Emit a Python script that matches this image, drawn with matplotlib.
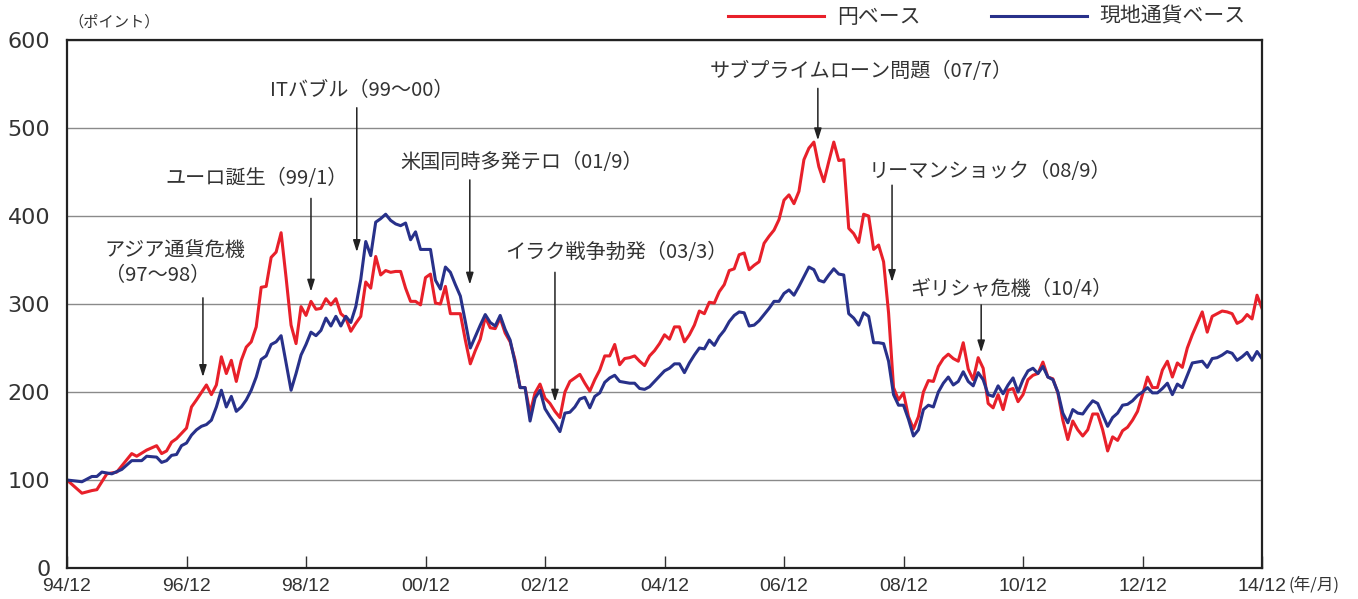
import matplotlib
matplotlib.use('Agg')
import matplotlib.pyplot as plt

plt.rcParams['font.family'] = ['Noto Sans CJK JP', 'DejaVu Sans']

# months since 94/12
months_yen = [0, 3, 5, 6, 8, 10, 13, 14, 16, 18, 19, 20, 21, 22, 24, 25, 26, 28, 29, 30,
              31, 32, 33, 34, 35, 36, 37, 38, 39, 40, 41, 42, 43, 44, 45, 46, 47, 48, 49, 50,
              51, 52, 53, 54, 55, 56, 57, 58, 59, 60, 61, 62, 63, 64, 65, 66, 67, 68, 69, 70,
              71, 72, 73, 74, 75, 76, 77, 78, 79, 80, 81, 82, 83, 84, 85, 86, 87, 88, 89, 90,
              91, 92, 93, 94, 95, 96, 97, 98, 99, 100, 101, 102, 103, 104, 105, 106, 107, 108, 109, 110,
              111, 112, 113, 114, 115, 116, 117, 118, 119, 120, 121, 122, 123, 124, 125, 126, 127, 128, 129, 130,
              131, 132, 133, 134, 135, 136, 137, 138, 139, 140, 141, 142, 143, 144, 145, 146, 147, 148, 149, 150,
              151, 152, 153, 154, 155, 156, 157, 158, 159, 160, 161, 162, 163, 164, 165, 166, 167, 168, 169, 170,
              171, 172, 173, 174, 175, 176, 177, 178, 179, 180, 181, 182, 183, 184, 185, 186, 187, 188, 189, 190,
              191, 192, 193, 194, 195, 196, 197, 198, 199, 200, 201, 202, 203, 204, 205, 206, 207, 208, 209, 210,
              211, 212, 213, 214, 215, 216, 217, 218, 219, 220, 221, 222, 223, 224, 225, 226, 227, 228, 229, 230,
              231, 232, 233, 234, 235, 236, 237, 238, 239, 240]
yen_base = [100, 85, 88, 89, 107, 109, 130, 127, 134, 139, 130, 133, 143, 147, 159, 183, 191, 208, 197, 208,
            240, 221, 236, 212, 236, 251, 257, 274, 319, 320, 353, 359, 381, 330, 276, 255, 297, 287, 303, 294,
            295, 306, 299, 306, 289, 284, 269, 278, 286, 325, 318, 354, 333, 338, 336, 337, 337, 318, 303, 303,
            299, 330, 334, 301, 300, 320, 289, 289, 289, 259, 232, 247, 260, 285, 273, 272, 284, 267, 257, 236,
            205, 205, 176, 199, 209, 193, 187, 178, 171, 200, 212, 216, 220, 210, 201, 214, 225, 241, 241, 254,
            231, 238, 239, 241, 235, 230, 241, 247, 255, 265, 260, 274, 274, 257, 265, 276, 292, 289, 302, 301,
            314, 322, 338, 340, 356, 358, 339, 344, 348, 369, 377, 384, 396, 418, 424, 414, 428, 464, 477, 484,
            456, 439, 462, 484, 463, 464, 386, 380, 370, 402, 400, 362, 367, 348, 290, 205, 191, 199, 172, 158,
            172, 200, 213, 212, 229, 238, 243, 238, 235, 256, 226, 214, 239, 227, 187, 182, 197, 180, 202, 204,
            189, 197, 214, 219, 221, 234, 217, 215, 199, 168, 146, 167, 157, 150, 157, 175, 175, 157, 133, 149,
            145, 156, 160, 168, 178, 197, 217, 205, 205, 225, 235, 217, 233, 228, 250, 265, 278, 291, 268, 286,
            289, 292, 291, 289, 278, 281, 288, 283, 310, 295]

months_local = [0, 3, 5, 6, 7, 9, 11, 13, 15, 16, 18, 19, 20, 21, 22, 23, 24, 25, 26, 27,
                28, 29, 30, 31, 32, 33, 34, 35, 36, 37, 38, 39, 40, 41, 42, 43, 44, 45, 46, 47,
                48, 49, 50, 51, 52, 53, 54, 55, 56, 57, 58, 59, 60, 61, 62, 63, 64, 65, 66, 67,
                68, 69, 70, 71, 72, 73, 74, 75, 76, 77, 78, 79, 80, 81, 82, 83, 84, 85, 86, 87,
                88, 89, 90, 91, 92, 93, 94, 95, 96, 97, 98, 99, 100, 101, 102, 103, 104, 105, 106, 107,
                108, 109, 110, 111, 112, 113, 114, 115, 116, 117, 118, 119, 120, 121, 122, 123, 124, 125, 126, 127,
                128, 129, 130, 131, 132, 133, 134, 135, 136, 137, 138, 139, 140, 141, 142, 143, 144, 145, 146, 147,
                148, 149, 150, 151, 152, 153, 154, 155, 156, 157, 158, 159, 160, 161, 162, 163, 164, 165, 166, 167,
                168, 169, 170, 171, 172, 173, 174, 175, 176, 177, 178, 179, 180, 181, 182, 183, 184, 185, 186, 187,
                188, 189, 190, 191, 192, 193, 194, 195, 196, 197, 198, 199, 200, 201, 202, 203, 204, 205, 206, 207,
                208, 209, 210, 211, 212, 213, 214, 215, 216, 217, 218, 219, 220, 221, 222, 223, 224, 225, 226, 227,
                228, 229, 230, 231, 232, 233, 234, 235, 236, 237, 238, 239, 240]
local_base = [100, 98, 104, 104, 109, 107, 112, 122, 122, 127, 126, 120, 122, 128, 129, 139, 142, 151, 157, 161,
              163, 168, 183, 202, 183, 195, 178, 183, 191, 202, 217, 237, 241, 254, 257, 264, 233, 202, 221, 242,
              254, 268, 264, 270, 284, 275, 286, 275, 286, 279, 297, 328, 371, 355, 393, 397, 402, 395, 391, 389,
              392, 373, 382, 362, 362, 362, 327, 317, 342, 336, 322, 309, 280, 250, 263, 276, 288, 279, 275, 287,
              271, 259, 233, 205, 205, 167, 193, 202, 181, 172, 164, 155, 176, 177, 183, 192, 194, 182, 195, 199,
              211, 216, 219, 212, 211, 210, 210, 204, 203, 206, 212, 218, 224, 227, 232, 232, 222, 233, 242, 250,
              249, 259, 253, 263, 270, 280, 287, 291, 290, 275, 276, 281, 288, 295, 303, 303, 312, 316, 310, 320,
              331, 342, 339, 327, 325, 333, 340, 334, 333, 289, 284, 276, 290, 286, 256, 256, 255, 235, 197, 185,
              185, 169, 150, 157, 180, 185, 183, 200, 210, 217, 208, 212, 223, 212, 207, 222, 214, 197, 195, 207,
              198, 208, 216, 200, 214, 224, 227, 221, 229, 217, 214, 200, 176, 165, 180, 176, 175, 183, 190, 187,
              174, 161, 171, 176, 185, 186, 190, 196, 200, 205, 199, 199, 204, 210, 197, 209, 205, 219, 233, 234,
              235, 228, 238, 239, 242, 246, 244, 236, 240, 245, 236, 246, 238]

tick_months = [0, 24, 48, 72, 96, 120, 144, 168, 192, 216, 240]
tick_labels = ['94/12', '96/12', '98/12', '00/12', '02/12', '04/12', '06/12', '08/12', '10/12', '12/12', '14/12']
y_ticks = [0, 100, 200, 300, 400, 500, 600]

# events: label, text pos (month, value), arrow start, arrow tip
events = [
    ('アジア通貨危機\n（97～98）', (7.6, 347), (27.3, 307), (27.3, 217)),
    ('ユーロ誕生（99/1）', (19.7, 443), (49.0, 420), (49.0, 314)),
    ('ITバブル（99～00）', (40.8, 543), (58.2, 523), (58.2, 359)),
    ('米国同時多発テロ（01/9）', (66.9, 461), (80.9, 441), (80.9, 322)),
    ('イラク戦争勃発（03/3）', (88.0, 359), (98.0, 336), (98.0, 189)),
    ('サブプライムローン問題（07/7）', (129.1, 564), (150.8, 545), (150.8, 486)),
    ('リーマンショック（08/9）', (160.9, 450), (165.7, 435), (165.7, 325)),
    ('ギリシャ危機（10/4）', (169.3, 316), (183.6, 299), (183.6, 245)),
]

red = '#e8202a'
blue = '#28318a'
txt = '#333333'

fig = plt.figure(figsize=(13.58, 5.99), dpi=100)
ax = fig.add_axes([67 / 1358, 31 / 599, 1195 / 1358, 528 / 599])

ax.plot(months_yen, yen_base, color=red, lw=2.2, label='円ベース', zorder=3)
ax.plot(months_local, local_base, color=blue, lw=2.2, label='現地通貨ベース', zorder=3)

ax.set_xlim(0, 240)
ax.set_ylim(0, 600)
ax.set_yticks(y_ticks)
ax.set_yticklabels([str(v) for v in y_ticks], family='DejaVu Sans', fontsize=16, color=txt)
ax.set_xticks(tick_months)
ax.set_xticklabels(tick_labels, family='Liberation Sans', fontsize=14, color=txt)
ax.tick_params(axis='y', length=0, pad=12)
ax.tick_params(axis='x', direction='in', length=9, width=1, color=txt, pad=7)
ax.grid(axis='y', color='#8a8a8a', lw=1, zorder=1)
for s in ax.spines.values():
    s.set_linewidth(1.6)
    s.set_color('#222222')
    s.set_zorder(4)

for label, tpos, start, tip in events:
    ax.text(tpos[0], tpos[1], label, ha='left', va='center', fontsize=14.5,
            color=txt, linespacing=1.25)
    ax.annotate('', xy=tip, xytext=start,
                arrowprops=dict(arrowstyle='-|>,head_length=0.7,head_width=0.22',
                                color='#222222', lw=1.1, shrinkA=0, shrinkB=0))

fig.text(68 / 1358, 1 - 22 / 599, '（ポイント）', ha='left', va='center', fontsize=11, color=txt)
fig.text(1288 / 1358, 1 - 585 / 599, '(年/月)', ha='left', va='center', fontsize=12, color=txt)

fig.legend(loc='center', bbox_to_anchor=(987 / 1358, 1 - 17 / 599), ncol=2, frameon=False,
           fontsize=15, handlelength=4.6, handletextpad=0.6, columnspacing=3.4,
           labelcolor=txt)

fig.savefig('out.png', dpi=100)
